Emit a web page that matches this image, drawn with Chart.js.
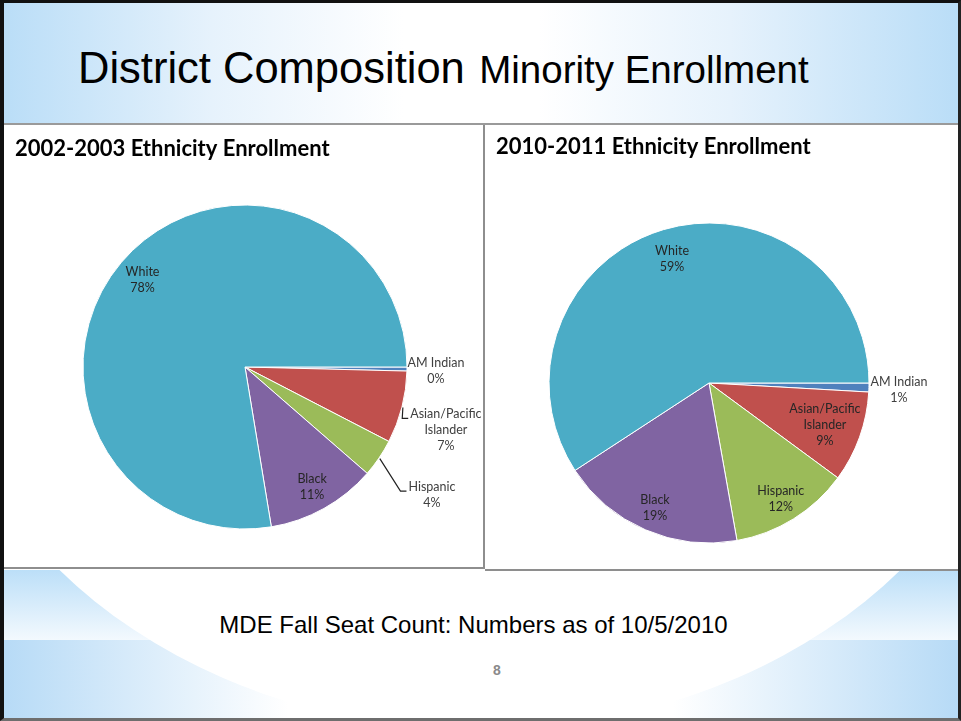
<!DOCTYPE html>
<html>
<head>
<meta charset="utf-8">
<script src="https://cdn.jsdelivr.net/npm/chart.js@4.4.1/dist/chart.umd.min.js"></script>
<style>
body { margin: 0; background: #fff; }
#slide { position: relative; width: 961px; height: 721px; overflow: hidden; background: #fff; font-family: "Liberation Sans", Arial, sans-serif; }
.bandA { position: absolute; left: 0; top: 570px; width: 961px; height: 70px; background: linear-gradient(180deg, #bcdff8 0%, #f3f9fe 100%); }
.bandB { position: absolute; left: 0; top: 640px; width: 961px; height: 81px; background: linear-gradient(90deg, #b6daf6 0%, #ffffff 30%, #ffffff 70%, #b6daf6 100%); }
.oval { position: absolute; left: -65px; top: -150px; width: 1090px; height: 880px; border-radius: 50%; background: #fff; }
.topband { position: absolute; left: 0; top: 0; width: 961px; height: 123px; background: linear-gradient(90deg, #b9ddf7 0%, #e6f2fc 22%, #ffffff 42%, #ffffff 56%, #e6f2fc 76%, #b9ddf7 100%); }
.title { position: absolute; left: 78px; top: 47px; white-space: nowrap; color: #000; line-height: 1; }
.title .big { font-size: 43.5px; }
.title .small { font-size: 38.5px; margin-left: 10px; }
.rule { position: absolute; left: 4px; top: 123px; width: 954px; height: 2px; background: #9a9a9a; }
.panel { position: absolute; background: #fff; }
#p1 { left: 4px; top: 125px; width: 479px; height: 442px; border-right: 2px solid #8e8e8e; border-bottom: 2px solid #8e8e8e; }
#p2 { left: 485px; top: 125px; width: 473px; height: 444px; border-bottom: 2px solid #8e8e8e; }
.note { position: absolute; left: 0; width: 947px; top: 611px; text-align: center; font-size: 24px; color: #000; }
.pagenum { position: absolute; left: 493px; top: 662px; font-size: 14px; font-weight: bold; color: #8a8a8a; }
.frame { position: absolute; left: 0; top: 0; width: 961px; height: 721px; box-sizing: border-box; border-left: 4px solid #111; border-top: 3px solid #111; border-right: 3px solid #222; border-bottom: 3px solid #6e6e6e; }
</style>
</head>
<body>
<div id="slide">
  <div class="bandA"></div>
  <div class="bandB"></div>
  <div class="oval"></div>
  <div class="topband"></div>
  <div class="title"><span class="big">District Composition</span> <span class="small">Minority Enrollment</span></div>
  <div class="rule"></div>
  <div class="panel" id="p1"><canvas id="chart2002" width="479" height="442"></canvas></div>
  <div class="panel" id="p2"><canvas id="chart2010" width="473" height="444"></canvas></div>
  <div class="note">MDE Fall Seat Count: Numbers as of 10/5/2010</div>
  <div class="pagenum">8</div>
  <div class="frame"></div>
</div>
<script>
// slices run clockwise from 3 o'clock
const categories = ['AM Indian', 'Asian/Pacific\nIslander', 'Hispanic', 'Black', 'White'];
const share2002 = [0.4, 7.2, 3.8, 11.0, 77.6];
const share2010 = [0.9, 9.2, 12.1, 18.6, 59.2];
const sliceColors = ['#4f81bd', '#c0504d', '#9bbb59', '#8064a2', '#4bacc6'];

// data labels like excel: inside at a fraction of the radius, or outside with an offset from the rim
const sliceLabels = {
    id: 'sliceLabels',
    afterDatasetsDraw(chart, args, opts) {
        const ctx = chart.ctx;
        const values = chart.data.datasets[0].data;
        ctx.save();
        ctx.font = opts.font;
        ctx.textAlign = 'center';
        ctx.textBaseline = 'middle';
        chart.getDatasetMeta(0).data.forEach((arc, i) => {
            const p = arc.getProps(['x', 'y', 'startAngle', 'endAngle', 'outerRadius'], true);
            const mid = (p.startAngle + p.endAngle) / 2;
            const lines = chart.data.labels[i].split('\n').concat(Math.round(values[i]) + '%');
            const place = opts.place[i];
            let cx, cy;
            if (place.out) {
                const ex = p.x + Math.cos(mid) * p.outerRadius;
                const ey = p.y + Math.sin(mid) * p.outerRadius;
                cx = ex + place.out[0];
                cy = ey + place.out[1];
                ctx.fillStyle = opts.outColor;
            } else {
                cx = p.x + Math.cos(mid) * p.outerRadius * place.r;
                cy = p.y + Math.sin(mid) * p.outerRadius * place.r;
                ctx.fillStyle = opts.inColor;
            }
            const top = cy - (lines.length - 1) * opts.lineHeight / 2;
            if (place.leader) {
                const ex = p.x + Math.cos(mid) * (p.outerRadius + 1);
                const ey = p.y + Math.sin(mid) * (p.outerRadius + 1);
                const tx = cx - ctx.measureText(lines[0]).width / 2 - 2;
                const ty = top + 4;
                ctx.strokeStyle = '#222';
                ctx.lineWidth = 1.2;
                ctx.beginPath();
                ctx.moveTo(ex, ey);
                ctx.lineTo(tx - 6, ty);
                ctx.lineTo(tx, ty);
                ctx.stroke();
            }
            lines.forEach((t, k) => ctx.fillText(t, cx, top + k * opts.lineHeight));
        });
        ctx.restore();
    }
};

function pieChart(canvasId, title, values, radius, padding, titlePad, place) {
    return new Chart(document.getElementById(canvasId), {
        type: 'pie',
        data: {
            labels: categories,
            datasets: [{ data: values, backgroundColor: sliceColors, borderColor: '#ffffff', borderWidth: 1, radius, hoverOffset: 0 }]
        },
        options: {
            responsive: false,
            animation: false,
            events: [],
            rotation: 90,
            layout: { padding },
            plugins: {
                legend: { display: false },
                tooltip: { enabled: false },
                title: {
                    display: true, text: title, align: 'start', color: '#000',
                    font: { family: 'Lato', size: 22, weight: 'bold', lineHeight: 1.2 },
                    padding: titlePad
                },
                sliceLabels: { font: '12.5px Lato', lineHeight: 16, inColor: '#262626', outColor: '#404040', place }
            }
        },
        plugins: [sliceLabels]
    });
}

pieChart('chart2002', '2002-2003 Ethnicity Enrollment', share2002, 162,
    { left: 11, right: 8, top: 0, bottom: 38 }, { top: 10.5, bottom: 43.1 },
    [{ out: [29, 2] }, { out: [44, 23], leader: true }, { out: [53, 37], leader: true }, { r: 0.85 }, { r: 0.83 }]);

pieChart('chart2010', '2010-2011 Ethnicity Enrollment', share2010, 160,
    { left: 11, right: 36, top: 0, bottom: 8 }, { top: 8.5, bottom: 45.1 },
    [{ out: [30, 2] }, { r: 0.77 }, { r: 0.85 }, { r: 0.85 }, { r: 0.81 }]);
</script>
</body>
</html>
